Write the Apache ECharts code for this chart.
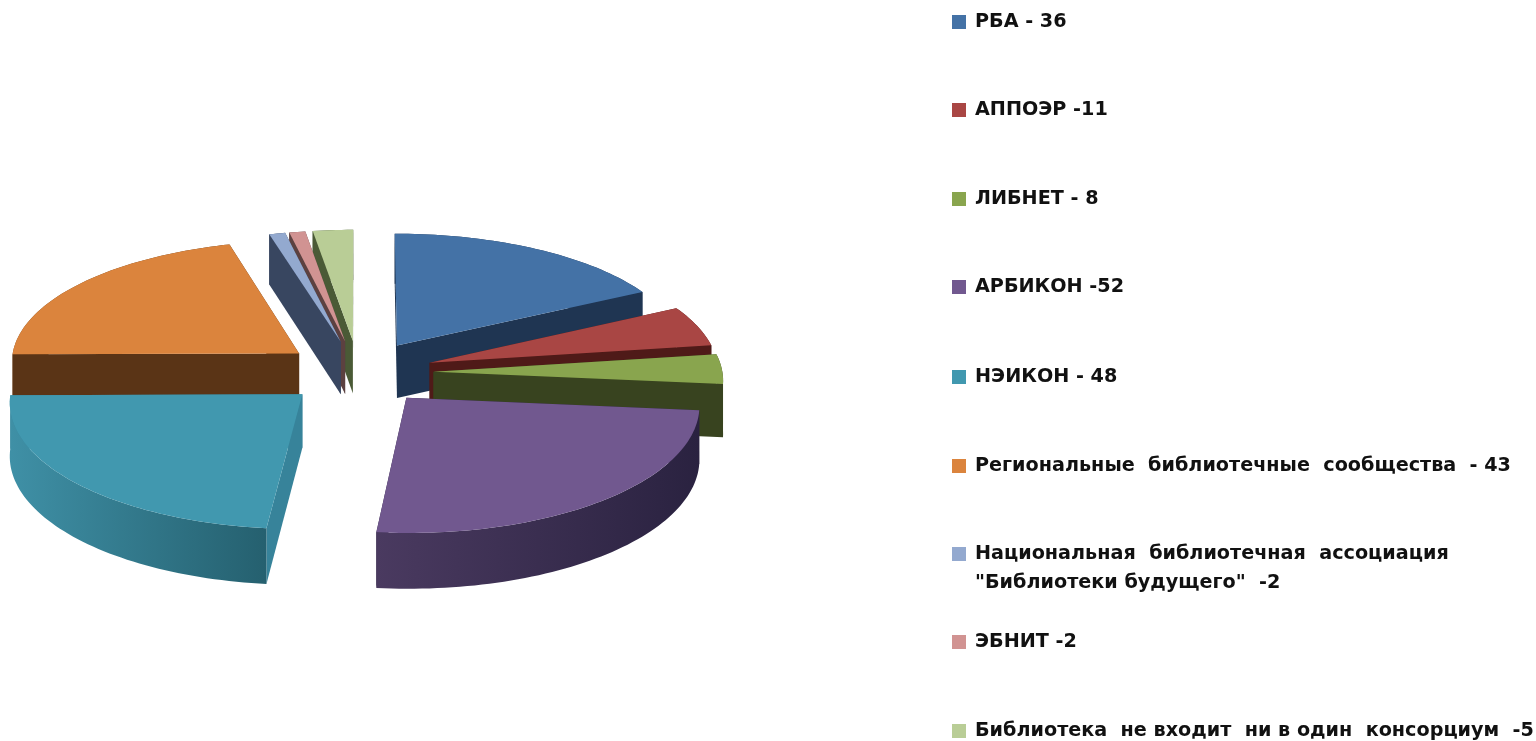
<!DOCTYPE html>
<html><head><meta charset="utf-8">
<style>html,body{margin:0;padding:0;background:#fff}#c{width:1536px;height:741px;filter:blur(0.6px)}</style>
<script src="https://cdn.jsdelivr.net/npm/echarts@6/dist/echarts.min.js"></script></head>
<body><div id="c"></div>
<script>
const categories = ['РБА','АППОЭР','ЛИБНЕТ','АРБИКОН','НЭИКОН','Региональные библиотечные сообщества','Национальная библиотечная ассоциация "Библиотеки будущего"','ЭБНИТ','Библиотека не входит ни в один консорциум'];
const values = [36,11,8,52,48,43,2,2,5];
const legendLabels = ['РБА - 36','АППОЭР -11','ЛИБНЕТ - 8','АРБИКОН -52','НЭИКОН - 48','Региональные  библиотечные  сообщества  - 43','\nНациональная  библиотечная  ассоциация\n"Библиотеки будущего"  -2','ЭБНИТ -2','Библиотека  не входит  ни в один  консорциум  -5'];
const legendRows = [23,111,200,288,378,467,555,643,732];
const topColors = ['#4472a6','#a94644','#89a54e','#71588f','#4198af','#db843d','#93a9cf','#d19392','#b9cd96'];
const radialWall = ['#1f3552','#4f1a18','#38431f','#2d2340','#37839a','#5a3416','#384660','#5c4140','#4a5a36'];
const outerWallL = ['#1f3552','#4f1a18','#38431f','#4a3a60','#3f90a6','#7a4a20','#384660','#5c4140','#4a5a36'];
const outerWallR = ['#1f3552','#4f1a18','#38431f','#2a2240','#25606f','#5a3416','#384660','#5c4140','#4a5a36'];
const paintOrder = [0,1,2,8,7,6,5,3,4];

const CX=358.5, CY=372.5, R=289, EXPLODE=75, B=0.428, KY=0.00023, KX=0.0002, DEPTH=53, KD=0.00015;
const total = values.reduce((a,b)=>a+b,0);
function proj(px,py,low){
  return [CX+px*(1+KX*py), CY+B*py*(1+KY*py)+(low?DEPTH*(1+KD*py):0)];
}
function sliceAngles(i){
  let s=0; for(let k=0;k<i;k++) s+=values[k];
  return [s/total*2*Math.PI,(s+values[i])/total*2*Math.PI];
}
function makeRender(i){
  return function(params,api){
    const v=api.value(0);
    const a0=sliceAngles(i)[0], a1=a0+v/total*2*Math.PI, mid=(a0+a1)/2;
    const ox=EXPLODE*Math.sin(mid), oy=-EXPLODE*Math.cos(mid);
    const rim=[]; const n=Math.max(4,Math.ceil((a1-a0)*40));
    for(let k=0;k<=n;k++){const a=a0+(a1-a0)*k/n; rim.push([ox+R*Math.sin(a),oy-R*Math.cos(a)]);}
    const apex=[ox,oy];
    const wall=(p,q)=>{ // radial wall
      return {pts:[proj(p[0],p[1]),proj(q[0],q[1]),proj(q[0],q[1],1),proj(p[0],p[1],1)],fill:radialWall[i]};
    };
    const outerPts=rim.map(p=>proj(p[0],p[1])).concat(rim.slice().reverse().map(p=>proj(p[0],p[1],1)));
    const grad={type:'linear',x:0,y:0,x2:1,y2:0,colorStops:[{offset:0,color:outerWallL[i]},{offset:1,color:outerWallR[i]}]};
    const walls=[wall(apex,rim[0]),wall(apex,rim[n]),{pts:outerPts,fill:grad}];
    walls.sort((u,w)=>{const m=o=>o.pts.reduce((s,p)=>s+p[1],0)/o.pts.length;return m(u)-m(w);});
    const children=walls.map(w=>({type:'polygon',shape:{points:w.pts},style:{fill:w.fill}}));
    children.push({type:'polygon',shape:{points:[proj(apex[0],apex[1])].concat(rim.map(p=>proj(p[0],p[1])))},style:{fill:topColors[i]}});
    return {type:'group',children};
  };
}
const series=paintOrder.map((i,z)=>({
  type:'custom',name:categories[i],coordinateSystem:'none',
  renderItem:makeRender(i),data:[[values[i]]],z:2+z,silent:true,
  itemStyle:{color:topColors[i]},animation:false
}));
const LH=29;
const legend=categories.map((name,i)=>{
  const lines=legendLabels[i].split('\n').length;
  return {
    data:[{name,icon:'rect'}],show:true,selectedMode:false,orient:'vertical',
    left:952,top:legendRows[i]-4-lines*LH/2,padding:0,itemWidth:14,itemHeight:14,itemGap:0,
    formatter:()=>legendLabels[i],
    textStyle:{fontFamily:'DejaVu Sans',fontWeight:'bold',fontSize:19.2,color:'#111',lineHeight:LH,padding:[6,0,0,4]}
  };
});
const chart=echarts.init(document.getElementById('c'),null,{renderer:'canvas'});
chart.setOption({animation:false,backgroundColor:'#fff',legend,series});
</script></body></html>
